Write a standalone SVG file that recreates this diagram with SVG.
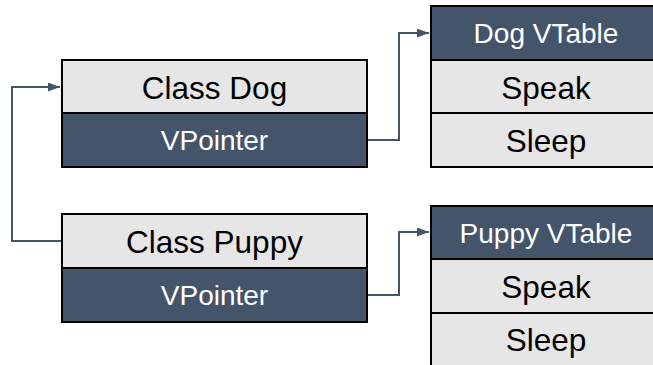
<svg xmlns="http://www.w3.org/2000/svg" width="653" height="365" viewBox="0 0 653 365">
<defs>
<style>
.lt{fill:#e7e6e6;stroke:#000;stroke-width:2}
.dk{fill:#44546a;stroke:#000;stroke-width:2}
.tl{font-family:"Liberation Sans",Arial,sans-serif;font-size:31.5px;fill:#000;text-anchor:middle}
.td{font-family:"Liberation Sans",Arial,sans-serif;font-size:28px;fill:#fff;text-anchor:middle}
.con{fill:none;stroke:#44546a;stroke-width:2}
</style>
<marker id="ah" viewBox="0 0 10 10" refX="10" refY="5" markerWidth="6" markerHeight="4.5" markerUnits="strokeWidth" orient="auto" preserveAspectRatio="none">
<path d="M0,0 L10,5 L0,10 z" fill="#44546a"/>
</marker>
</defs>
<g id="connectors">
<path class="con" d="M367,140 H399 V33 H429" marker-end="url(#ah)"/>
<path class="con" d="M367,295 H399 V232 H429" marker-end="url(#ah)"/>
<path class="con" d="M62,241 H12 V87 H60" marker-end="url(#ah)"/>
</g>
<g id="class-dog">
<rect class="lt" x="62" y="60" width="305" height="53"/>
<rect class="dk" x="62" y="113" width="305" height="54"/>
<text class="tl" x="214.5" y="98.5">Class Dog</text>
<text class="td" x="214.5" y="150">VPointer</text>
</g>
<g id="dog-vtable">
<rect class="dk" x="431" y="6" width="230" height="54"/>
<rect class="lt" x="431" y="60" width="230" height="53"/>
<rect class="lt" x="431" y="113" width="230" height="54"/>
<text class="td" x="546" y="43">Dog VTable</text>
<text class="tl" x="546" y="98.5">Speak</text>
<text class="tl" x="546" y="151.5">Sleep</text>
</g>
<g id="class-puppy">
<rect class="lt" x="62" y="214" width="305" height="54"/>
<rect class="dk" x="62" y="268" width="305" height="54"/>
<text class="tl" x="214.5" y="252.5">Class Puppy</text>
<text class="td" x="214.5" y="305">VPointer</text>
</g>
<g id="puppy-vtable">
<rect class="dk" x="431" y="206" width="230" height="53"/>
<rect class="lt" x="431" y="259" width="230" height="54"/>
<rect class="lt" x="431" y="313" width="230" height="54"/>
<text class="td" x="546" y="242.5">Puppy VTable</text>
<text class="tl" x="546" y="297.5">Speak</text>
<text class="tl" x="546" y="351">Sleep</text>
</g>
</svg>
